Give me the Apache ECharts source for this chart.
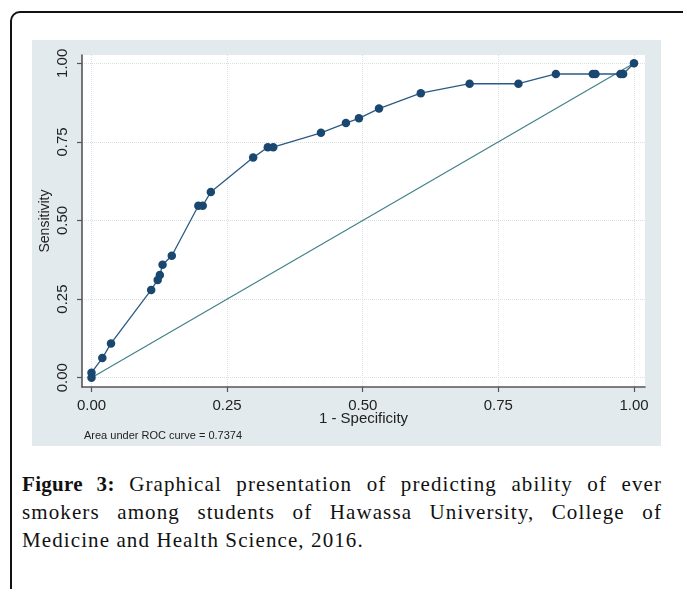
<!DOCTYPE html>
<html>
<head>
<meta charset="utf-8">
<script src="https://cdn.jsdelivr.net/npm/echarts@6/dist/echarts.min.js"></script>
<style>
  html, body { margin: 0; padding: 0; background: #fff; }
  #page { position: relative; width: 683px; height: 589px; overflow: hidden; background: #fff; }
  #frame { position: absolute; left: 10px; top: 11px; width: 720px; height: 640px;
           border: 2px solid #111; border-radius: 10px; box-sizing: border-box; }
  #chart { position: absolute; left: 32px; top: 40px; width: 629px; height: 406px; }
  #caption { position: absolute; left: 22px; top: 470px; width: 640px;
             font-family: "Liberation Serif", serif; font-size: 21px; line-height: 28px;
             letter-spacing: 1.1px; color: #111; }
  #caption .j { text-align: justify; text-align-last: justify; white-space: nowrap; }
  #caption .l { text-align: left; white-space: nowrap; }
  #caption b { font-weight: bold; letter-spacing: 0.3px; }
</style>
</head>
<body>
<div id="page">
  <div id="frame"></div>
  <div id="chart"></div>
  <div id="caption">
    <div class="j"><b>Figure 3:</b> Graphical presentation of predicting ability of ever</div>
    <div class="j">smokers among students of Hawassa University, College of</div>
    <div class="l">Medicine and Health Science, 2016.</div>
  </div>
</div>
<script>
// ROC curve points (1 - Specificity, Sensitivity)
const rocX = [0, 0, 0.020, 0.036, 0.110, 0.122, 0.126, 0.131, 0.148, 0.197, 0.205, 0.220, 0.298, 0.325, 0.335, 0.423, 0.469, 0.493, 0.530, 0.607, 0.697, 0.787, 0.856, 0.924, 0.929, 0.975, 0.980, 1.000];
const rocY = [0, 0.016, 0.0625, 0.109, 0.279, 0.311, 0.327, 0.359, 0.388, 0.547, 0.547, 0.591, 0.700, 0.733, 0.733, 0.779, 0.810, 0.825, 0.856, 0.905, 0.935, 0.935, 0.966, 0.966, 0.966, 0.966, 0.966, 1.000];
// reference diagonal
const refX = [0, 1];
const refY = [0, 1];
// tick values
const tickValues = [0, 0.25, 0.5, 0.75, 1];
const xTitle = "1 - Specificity";
const yTitle = "Sensitivity";
const areaNote = "Area under ROC curve = 0.7374";

const chart = echarts.init(document.getElementById('chart'), null, { renderer: 'canvas' });
const axisColor = '#555';
const labelFont = 'Liberation Sans, Arial, sans-serif';
const gridLine = { show: true, lineStyle: { color: '#d6e1e7', width: 1, type: 'dotted' } };

chart.setOption({
  animation: false,
  backgroundColor: '#e2eaee',
  grid: { left: 50, top: 15, right: 16, bottom: 59, show: true, backgroundColor: '#ffffff', borderWidth: 0,
          containLabel: false, outerBoundsMode: 'none' },
  xAxis: {
    type: 'value', min: -0.0175, max: 1.0203,
    name: xTitle, nameLocation: 'middle', nameGap: 24, nameMoveOverlap: false,
    nameTextStyle: { fontFamily: labelFont, fontSize: 15, color: '#222' },
    axisLine: { show: true, onZero: false, lineStyle: { color: axisColor, width: 1.6 } },
    axisTick: { show: true, inside: false, length: 5, customValues: tickValues, lineStyle: { color: axisColor, width: 1.2 } },
    axisLabel: { customValues: tickValues, formatter: v => v.toFixed(2), fontFamily: labelFont, fontSize: 15, color: '#222', margin: 11 },
    splitLine: gridLine
  },
  yAxis: {
    type: 'value', min: -0.0296, max: 1.0264,
    name: yTitle, nameLocation: 'middle', nameGap: 30, nameMoveOverlap: false,
    nameTextStyle: { fontFamily: labelFont, fontSize: 14, color: '#222' },
    axisLine: { show: true, onZero: false, lineStyle: { color: axisColor, width: 1.6 } },
    axisTick: { show: true, inside: false, length: 5, customValues: tickValues, lineStyle: { color: axisColor, width: 1.2 } },
    axisLabel: { customValues: tickValues, formatter: v => v.toFixed(2), rotate: 90, fontFamily: labelFont, fontSize: 15, color: '#222', margin: 12 },
    splitLine: gridLine
  },
  graphic: [{
    type: 'text', left: 52, top: 390,
    style: { text: areaNote, font: '11px ' + labelFont, fill: '#222' }
  }],
  series: [
    {
      type: 'line', data: refX.map((x, i) => [x, refY[i]]),
      showSymbol: false, symbol: 'none', silent: true,
      lineStyle: { color: '#3f7f86', width: 1.1 }
    },
    {
      type: 'line', data: rocX.map((x, i) => [x, rocY[i]]),
      symbol: 'circle', symbolSize: 8.5, showAllSymbol: true,
      itemStyle: { color: '#1a476f' },
      lineStyle: { color: '#2b5b84', width: 1.3 }
    }
  ]
});
</script>
</body>
</html>
